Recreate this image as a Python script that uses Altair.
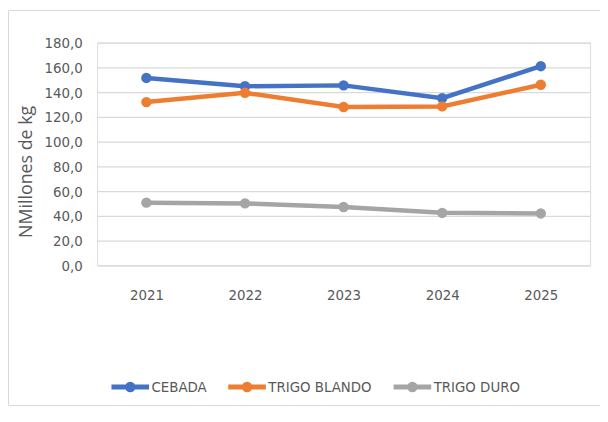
import altair as alt
import pandas as pd

years = ["2021", "2022", "2023", "2024", "2025"]
series_names = ["CEBADA", "TRIGO BLANDO", "TRIGO DURO"]
cebada = [151.5, 144.8, 145.5, 135.2, 161.0]
trigo_blando = [132.0, 139.5, 128.0, 128.5, 146.0]
trigo_duro = [50.7, 50.1, 47.2, 42.5, 42.0]
colors = ["#4472C4", "#ED7D31", "#A5A5A5"]
y_ticks = [0, 20, 40, 60, 80, 100, 120, 140, 160, 180]

rows = []
for name, vals in zip(series_names, [cebada, trigo_blando, trigo_duro]):
    for yr, v in zip(years, vals):
        rows.append({"year": yr, "serie": name, "value": v})
df = pd.DataFrame(rows)

FONT = "'DejaVu Sans Condensed', Roboto, sans-serif"
GREY = "#595959"

x_enc = alt.X("year:O", sort=years, title=None,
              scale=alt.Scale(paddingOuter=0.5),
              axis=alt.Axis(labelAngle=0, ticks=False, domain=False, grid=False,
                            labelPadding=22, labelFont=FONT, labelFontSize=15,
                            labelColor=GREY))
y_enc = alt.Y("value:Q", title="NMillones de kg",
              scale=alt.Scale(domain=[0, 180], nice=False),
              axis=alt.Axis(values=y_ticks, ticks=False, domain=False,
                            grid=True, gridColor="#D9D9D9", gridWidth=1.3,
                            labelExpr="replace(format(datum.value, '.1f'), '.', ',')",
                            labelFont=FONT, labelFontSize=15, labelColor=GREY,
                            labelPadding=15,
                            titleFont="Open Sans", titleFontSize=18,
                            titleColor=GREY, titleFontWeight="normal",
                            titleAngle=-90, titleX=-71, titleY=130,
                            titleAlign="center", titleBaseline="middle"))
color_enc = alt.Color("serie:N", sort=series_names,
                      scale=alt.Scale(domain=series_names, range=colors),
                      legend=alt.Legend(title=None, orient="none",
                                        direction="horizontal",
                                        legendX=12, legendY=326,
                                        labelFont=FONT, labelFontSize=15,
                                        labelColor=GREY, labelOffset=0,
                                        columnPadding=11,
                                        symbolType="M-1,0L1,0M0.15,0A0.15,0.15,0,1,1,-0.15,0A0.15,0.15,0,1,1,0.15,0Z",
                                        symbolSize=1444, symbolStrokeWidth=5))

lines = alt.Chart(df).mark_line(strokeWidth=4.5).encode(x=x_enc, y=y_enc, color=color_enc)
points = alt.Chart(df).mark_point(filled=True, size=110, opacity=1).encode(
    x=x_enc, y=y_enc, color=color_enc)

border = alt.Chart(alt.Data(values=[{"a": 1}])).mark_rect(
    fill=None, stroke="#D9D9D9", strokeWidth=1, clip=False).encode(
    x=alt.value(-89.5), x2=alt.value(700), y=alt.value(-32.5), y2=alt.value(366.5))

chart = alt.layer(border, lines, points).properties(
    width=498, height=225,
    autosize=alt.AutoSizeParams(type="none"),
    padding={"left": 90, "top": 33, "right": 10, "bottom": 142},
).configure_view(stroke=None).configure(background="white")

chart.save("out.html", embed_options={"renderer": "svg", "actions": False})
